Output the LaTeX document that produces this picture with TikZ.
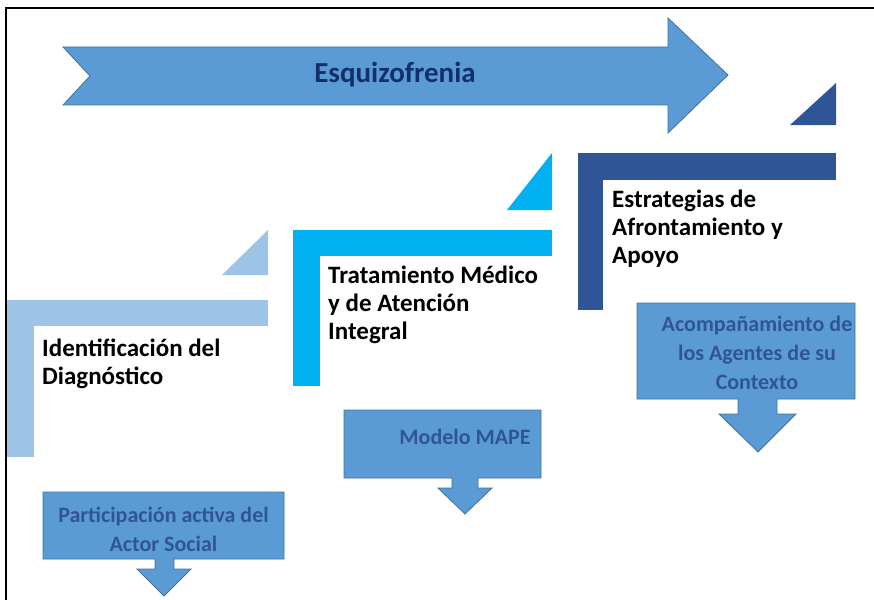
\documentclass[tikz,border=0pt]{standalone}
\usepackage{fontspec}
\setmainfont{Carlito}
\usepackage{tikz}
\usetikzlibrary{positioning,calc}

\definecolor{pale}{HTML}{9DC3E6}
\definecolor{sky}{HTML}{00B0F0}
\definecolor{navy}{HTML}{2F5597}
\definecolor{mid}{HTML}{5B9BD5}
\definecolor{edge}{HTML}{41719C}
\definecolor{ink}{HTML}{13306B}
\definecolor{tagtext}{HTML}{2F5597}

\begin{document}
\begin{tikzpicture}[
    x=1pt, y=-1pt,
    stage/.style={anchor=west, align=left, inner sep=0, font=\fontsize{25}{28}\selectfont\bfseries},
    tag/.style={align=center, inner sep=0, text=tagtext, font=\fontsize{22}{29}\selectfont\bfseries},
    shp/.style={draw=edge, fill=mid, line width=0.8pt}
]
\useasboundingbox (0,0) rectangle (874,599);
\draw[line width=1.5pt] (6,610) |- (880,8);

% big arrow
\draw[shp] (63,47) -- (668,47) -- (668,18) -- (728,75) -- (668,133) -- (668,105) -- (63,105) -- (90,76) -- cycle;
\node[text=ink, font=\fontsize{29}{32}\selectfont\bfseries] (title) at (395,75) {Esquizofrenia};

% steps
\fill[pale] (7,300) rectangle (268,326);
\fill[pale] (7,300) rectangle (34,457);
\fill[pale] (222,275) -- (268,230) -- (268,275) -- cycle;
\node[stage] (diag) at (42,364) {Identificación del\\Diagnóstico};

\fill[sky] (293,230) rectangle (552,256);
\fill[sky] (293,230) rectangle (320,386);
\fill[sky] (507,210) -- (552,153) -- (552,210) -- cycle;
\node[stage] (trat) at (328,305) {Tratamiento Médico\\y de Atención\\Integral};

\fill[navy] (578,153) rectangle (836,180);
\fill[navy] (578,153) rectangle (603,310);
\fill[navy] (790,125) -- (836,83) -- (836,125) -- cycle;
\node[stage] (estr) at (612,229) {Estrategias de\\Afrontamiento y\\Apoyo};

% callouts
\draw[shp] (43,492) -- (284,492) -- (284,559) -- (174,559) -- (174,569) -- (191,569) -- (164,596)
    -- (137,569) -- (155,569) -- (155,559) -- (43,559) -- cycle;
\node[tag] (actor) at (163.5,529) {Participación activa del\\Actor Social};

\draw[shp] (344,410) -- (541,410) -- (541,478) -- (478,478) -- (478,488) -- (492,488) -- (465,514)
    -- (438,488) -- (452,488) -- (452,478) -- (344,478) -- cycle;
\node[tag] (mape) at (465,437) {Modelo MAPE};

\draw[shp] (637,303) -- (855,303) -- (855,399) -- (777,399) -- (777,414) -- (796,414) -- (758,452)
    -- (719,414) -- (738,414) -- (738,399) -- (637,399) -- cycle;
\node[tag] (acomp) at (757,353) {Acompañamiento de\\los Agentes de su\\Contexto};
\end{tikzpicture}
\end{document}
